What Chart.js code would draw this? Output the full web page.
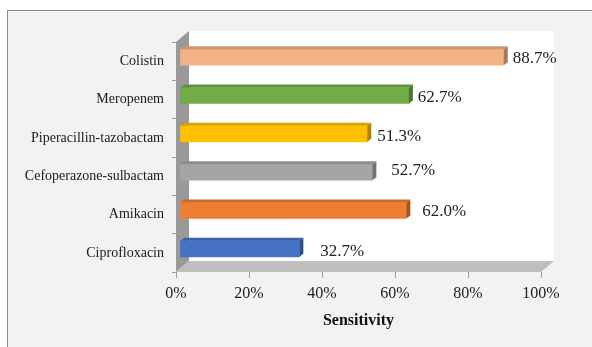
<!DOCTYPE html>
<html>
<head>
<meta charset="utf-8">
<script src="https://cdn.jsdelivr.net/npm/chart.js@4.4.1/dist/chart.umd.min.js"></script>
<style>
  html, body { margin: 0; padding: 0; background: #ffffff; overflow: hidden; }
  #panel {
    position: absolute; left: 7px; top: 10px; width: 700px; height: 500px;
    background: #f2f2f2; border: 1px solid #8c8c8c; box-sizing: border-box;
  }
  #wrap { position: absolute; left: 0; top: 0; width: 592px; height: 347px; }
</style>
</head>
<body>
<div id="panel"></div>
<div id="wrap"><canvas id="chart" width="592" height="347"></canvas></div>
<script>
// Antibiotic sensitivity (%)
const categories = [
  'Colistin',
  'Meropenem',
  'Piperacillin-tazobactam',
  'Cefoperazone-sulbactam',
  'Amikacin',
  'Ciprofloxacin'
];
const sensitivity = [88.7, 62.7, 51.3, 52.7, 62.0, 32.7];
const xTicks = [0, 20, 40, 60, 80, 100];
const xTickLabels = ['0%', '20%', '40%', '60%', '80%', '100%'];
const axisTitle = 'Sensitivity';

// bar colours: front, top and end faces
const barFront = ['#f4b183', '#70ad47', '#ffc000', '#a5a5a5', '#ed7d31', '#4472c4'];
const barTop   = ['#cf9670', '#5e913b', '#d9a300', '#8c8c8c', '#c9692a', '#3a61a7'];
const barEnd   = ['#a8795b', '#4c7630', '#b08400', '#727272', '#a45620', '#2f4f88'];

// value label nudges (px) relative to the bar's value position
const labelDx = [13, 13, 14, 23, 20, 25];
const labelDy = [-3, -1.5, -1, -6, -2.5, -1.5];

const SERIF = "'Liberation Serif', 'Times New Roman', serif";
const WALL = { x: 13, y: -11 };     // depth of the 3-D box
const BAR_SHIFT = { x: 4, y: -4 };  // bars sit part way into the box
const BAR_DEPTH = { x: 4, y: -3 };  // bevel of each bar

function poly(ctx, pts, fill) {
  ctx.beginPath();
  ctx.moveTo(pts[0][0], pts[0][1]);
  for (let i = 1; i < pts.length; i++) ctx.lineTo(pts[i][0], pts[i][1]);
  ctx.closePath();
  ctx.fillStyle = fill;
  ctx.fill();
}

const box3d = {
  id: 'box3d',
  beforeDraw(chart) {
    const { ctx, chartArea: a } = chart;
    ctx.save();
    ctx.fillStyle = '#ffffff';
    ctx.fillRect(a.left + WALL.x, a.top + WALL.y, a.right - a.left, a.bottom - a.top);
    poly(ctx, [[a.left, a.top], [a.left + WALL.x, a.top + WALL.y],
               [a.left + WALL.x, a.bottom + WALL.y], [a.left, a.bottom]], '#999999');
    poly(ctx, [[a.left, a.bottom], [a.left + WALL.x, a.bottom + WALL.y],
               [a.right + WALL.x, a.bottom + WALL.y], [a.right, a.bottom]], '#bfbfbf');
    ctx.restore();
  },
  beforeDatasetsDraw(chart) {
    chart.ctx.save();
    chart.ctx.translate(BAR_SHIFT.x, BAR_SHIFT.y);
  },
  afterDatasetsDraw(chart) {
    const ctx = chart.ctx;
    const bars = chart.getDatasetMeta(0).data;
    bars.forEach((bar, i) => {
      const { x, y, base, height } = bar.getProps(['x', 'y', 'base', 'height'], true);
      const t = y - height / 2, b = y + height / 2;
      poly(ctx, [[base, t], [base + BAR_DEPTH.x, t + BAR_DEPTH.y],
                 [x + BAR_DEPTH.x, t + BAR_DEPTH.y], [x, t]], barTop[i]);
      poly(ctx, [[x, t], [x + BAR_DEPTH.x, t + BAR_DEPTH.y],
                 [x + BAR_DEPTH.x, b + BAR_DEPTH.y], [x, b]], barEnd[i]);
    });
    ctx.restore();

    // value labels
    const xs = chart.scales.x, ys = chart.scales.y;
    ctx.save();
    ctx.font = '17px ' + SERIF;
    ctx.fillStyle = '#222222';
    ctx.textAlign = 'left';
    ctx.textBaseline = 'middle';
    sensitivity.forEach((v, i) => {
      const px = xs.getPixelForValue(v) + labelDx[i];
      const py = ys.getPixelForValue(i) + labelDy[i];
      ctx.fillText(v.toFixed(1) + '%', px, py);
    });
    ctx.restore();
  }
};

new Chart(document.getElementById('chart'), {
  type: 'bar',
  data: {
    labels: categories,
    datasets: [{
      data: sensitivity,
      backgroundColor: barFront,
      borderWidth: 0,
      barThickness: 16
    }]
  },
  options: {
    indexAxis: 'y',
    responsive: false,
    animation: false,
    events: [],
    layout: { padding: { left: 0, right: 51, top: 42, bottom: 0 } },
    plugins: { legend: { display: false }, tooltip: { enabled: false } },
    scales: {
      x: {
        min: 0, max: 100,
        afterBuildTicks(scale) { scale.ticks = xTicks.map(v => ({ value: v })); },
        afterFit(scale) { scale.height = 75; },
        border: { display: false },
        grid: { drawOnChartArea: false, tickLength: 6, color: '#9a9a9a' },
        ticks: {
          padding: 6,
          color: '#222222',
          font: { family: SERIF, size: 16 },
          callback: (v, i) => xTickLabels[i]
        },
        title: {
          display: true, text: axisTitle, color: '#111111',
          font: { family: SERIF, size: 16, weight: 'bold' },
          padding: { top: 0, bottom: 17 }
        }
      },
      y: {
        afterFit(scale) { scale.width = 176; },
        border: { display: false },
        grid: { drawOnChartArea: false, tickLength: 4, color: '#9a9a9a' },
        ticks: {
          padding: 8,
          color: '#1a1a1a',
          font: { family: SERIF, size: 14 }
        }
      }
    }
  },
  plugins: [box3d]
});
</script>
</body>
</html>
